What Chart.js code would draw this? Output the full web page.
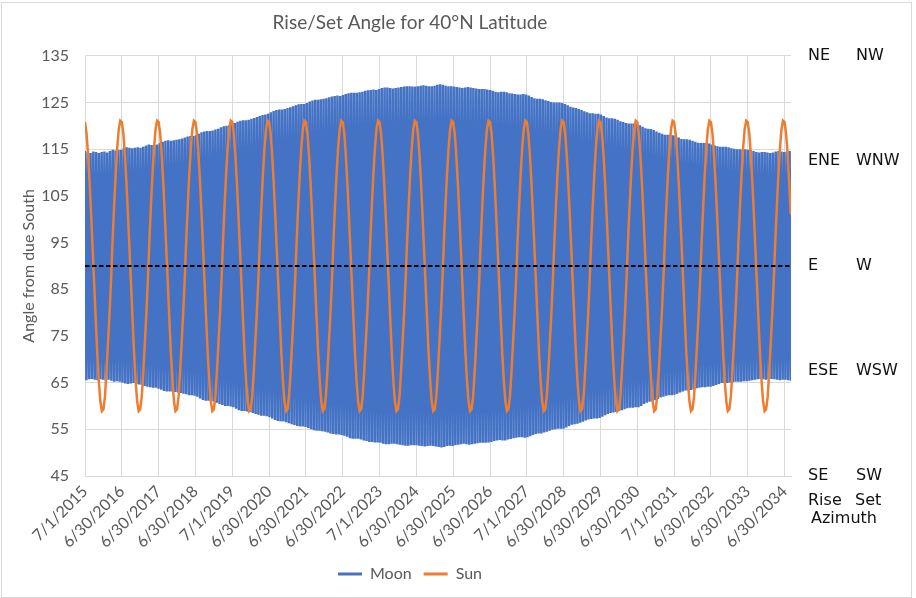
<!DOCTYPE html>
<html>
<head>
<meta charset="utf-8">
<script src="https://cdn.jsdelivr.net/npm/chart.js@4.4.1/dist/chart.umd.min.js"></script>
<style>
  html, body { margin: 0; padding: 0; background: #fff; }
  #wrap { position: relative; width: 916px; height: 598px; }
  #frame { position: absolute; left: 1px; top: 2px; width: 909px; height: 594px; border: 1px solid #d9d9d9; pointer-events: none; }
</style>
</head>
<body>
<div id="wrap">
  <canvas id="myChart" width="916" height="598"></canvas>
  <div id="frame"></div>
</div>
<script>
// x tick labels, one per year (Excel category labels)
const tickLabels = [
  "7/1/2015", "6/30/2016", "6/30/2017", "6/30/2018", "7/1/2019",
  "6/30/2020", "6/30/2021", "6/30/2022", "7/1/2023", "6/30/2024",
  "6/30/2025", "6/30/2026", "7/1/2027", "6/30/2028", "6/30/2029",
  "6/30/2030", "7/1/2031", "6/30/2032", "6/30/2033", "6/30/2034"
];

// months covered from 7/1/2015 to the end of the data (early Sep 2034)
const spanMonths = 230.1;

// Moon: highest rise angle of each monthly swing
const moonHighs = [
  114.6, 114.3, 114.2, 114.5, 114.4, 114.2, 114.4, 114.5, 114.3, 114.6, 114.9, 114.7, 114.8,
  114.9, 115.3, 115.4, 115.3, 115.2, 115.3, 115.4, 115.3, 115.5, 115.8, 116.0, 115.9, 115.9,
  116.0, 116.3, 116.6, 116.8, 116.9, 116.8, 116.9, 117.0, 117.1, 117.3, 117.5, 117.7, 117.8, 117.8,
  118.0, 118.3, 118.6, 118.8, 118.9, 118.9, 119.0, 119.2, 119.4, 119.7, 119.9, 120.0, 120.1,
  120.3, 120.6, 120.9, 121.1, 121.2, 121.2, 121.3, 121.5, 121.7, 121.9, 122.1, 122.3, 122.4,
  122.6, 122.9, 123.2, 123.4, 123.5, 123.5, 123.6, 123.8, 124.0, 124.2, 124.4, 124.6, 124.7, 124.7,
  124.9, 125.2, 125.4, 125.6, 125.6, 125.7, 125.8, 125.9, 126.1, 126.3, 126.4, 126.5, 126.4,
  126.6, 126.8, 127.0, 127.1, 127.1, 127.1, 127.2, 127.3, 127.5, 127.6, 127.7, 127.8, 127.7,
  127.9, 128.1, 128.2, 128.2, 128.1, 128.0, 128.1, 128.2, 128.3, 128.4, 128.5, 128.5, 128.4, 128.4,
  128.5, 128.6, 128.7, 128.6, 128.5, 128.5, 128.6, 128.8, 128.9, 128.8, 128.6, 128.5, 128.5,
  128.4, 128.3, 128.2, 128.1, 128.2, 128.3, 128.2, 128.1, 128.0, 127.9, 127.9, 127.9, 127.8,
  127.7, 127.5, 127.3, 127.2, 127.3, 127.3, 127.2, 127.0, 126.9, 126.8, 126.7, 126.7, 126.8, 126.7,
  126.5, 126.2, 125.9, 125.8, 125.8, 125.7, 125.5, 125.3, 125.1, 125.0, 125.0, 125.0, 124.9,
  124.7, 124.4, 124.1, 123.9, 123.8, 123.6, 123.4, 123.1, 122.9, 122.7, 122.7, 122.6, 122.6,
  122.4, 122.1, 121.8, 121.6, 121.6, 121.5, 121.3, 121.0, 120.8, 120.6, 120.5, 120.5, 120.5, 120.4,
  120.1, 119.8, 119.5, 119.4, 119.3, 119.1, 118.8, 118.5, 118.3, 118.1, 118.1, 118.1, 118.0,
  117.8, 117.5, 117.2, 117.1, 117.1, 117.0, 116.8, 116.6, 116.4, 116.3, 116.3, 116.3, 116.2,
  116.0, 115.8, 115.6, 115.5, 115.5, 115.5, 115.4, 115.2, 115.1, 115.0, 115.0, 115.0, 115.0, 114.9,
  114.8, 114.6, 114.4, 114.3, 114.4, 114.4, 114.3, 114.2, 114.3, 114.5, 114.6, 114.5, 114.4,
  114.5, 114.6
];

// Moon: lowest rise angle of each monthly swing
const moonLows = [
  65.5, 65.7, 65.8, 65.6, 65.5, 65.7, 65.6, 65.4, 65.6, 65.4, 65.2, 65.3, 65.2,
  65.0, 64.8, 64.7, 64.8, 64.9, 64.7, 64.6, 64.5, 64.3, 64.1, 64.0, 63.9, 63.9,
  63.7, 63.5, 63.2, 63.1, 63.1, 63.1, 63.0, 62.9, 62.8, 62.6, 62.5, 62.3, 62.3, 62.2,
  62.0, 61.6, 61.3, 61.1, 61.1, 61.0, 60.9, 60.7, 60.4, 60.2, 60.0, 60.0, 59.9,
  59.7, 59.4, 59.1, 58.9, 58.9, 58.8, 58.7, 58.5, 58.3, 58.1, 57.9, 57.9, 57.8,
  57.6, 57.3, 57.0, 56.8, 56.7, 56.7, 56.5, 56.3, 56.1, 55.9, 55.7, 55.6, 55.6, 55.5,
  55.3, 55.0, 54.8, 54.7, 54.7, 54.6, 54.5, 54.3, 54.1, 54.0, 53.9, 53.9, 53.8,
  53.6, 53.4, 53.1, 53.0, 53.0, 53.0, 52.8, 52.6, 52.5, 52.3, 52.3, 52.2, 52.2,
  52.1, 51.9, 51.8, 51.8, 51.9, 51.9, 51.8, 51.7, 51.6, 51.5, 51.5, 51.6, 51.6, 51.6,
  51.5, 51.4, 51.3, 51.4, 51.5, 51.4, 51.3, 51.2, 51.1, 51.2, 51.4, 51.5, 51.4,
  51.6, 51.7, 51.8, 51.9, 51.8, 51.7, 51.8, 51.9, 52.0, 52.1, 52.1, 52.1, 52.2,
  52.3, 52.5, 52.6, 52.7, 52.6, 52.6, 52.8, 52.9, 53.1, 53.2, 53.3, 53.3, 53.2, 53.3,
  53.5, 53.8, 54.0, 54.1, 54.1, 54.3, 54.5, 54.7, 54.9, 55.0, 55.1, 55.1, 55.1,
  55.4, 55.7, 56.0, 56.1, 56.2, 56.4, 56.6, 56.9, 57.1, 57.2, 57.3, 57.3, 57.4,
  57.7, 58.0, 58.3, 58.5, 58.6, 58.7, 58.9, 59.1, 59.3, 59.5, 59.6, 59.6, 59.7, 59.7,
  60.0, 60.4, 60.7, 60.9, 61.0, 61.2, 61.5, 61.8, 62.0, 62.2, 62.3, 62.3, 62.4,
  62.6, 62.9, 63.1, 63.3, 63.3, 63.4, 63.6, 63.8, 63.9, 64.0, 64.0, 64.1, 64.1,
  64.3, 64.5, 64.7, 64.9, 64.9, 64.9, 65.0, 65.1, 65.2, 65.2, 65.2, 65.3, 65.3, 65.4,
  65.5, 65.6, 65.7, 65.8, 65.7, 65.6, 65.7, 65.8, 65.7, 65.6, 65.5, 65.6, 65.6,
  65.5, 65.4
];

// Sun rise angle on the 1st and 16th of each month, 7/1/2015 .. 9/1/2034
const sunAngles = [
  120.8, 118.4, 113.8, 107.9, 101.0, 93.5, 86.1, 78.5, 71.2, 65.4, 61.0, 58.9,
  59.3, 62.0, 67.3, 73.5, 79.8, 87.1, 95.6, 103.0, 109.7, 115.3, 119.3, 121.1, 120.8, 118.4, 113.8, 107.9, 101.0, 93.5, 86.1, 78.5, 71.2, 65.4, 61.0, 58.9,
  59.3, 62.0, 67.3, 73.5, 79.8, 87.1, 95.6, 103.0, 109.7, 115.3, 119.3, 121.1, 120.8, 118.4, 113.8, 107.9, 101.0, 93.5, 86.1, 78.5, 71.2, 65.4, 61.0, 58.9,
  59.3, 62.0, 67.3, 73.5, 79.8, 87.1, 95.6, 103.0, 109.7, 115.3, 119.3, 121.1, 120.8, 118.4, 113.8, 107.9, 101.0, 93.5, 86.1, 78.5, 71.2, 65.4, 61.0, 58.9,
  59.3, 62.0, 67.3, 73.5, 79.8, 87.1, 95.6, 103.0, 109.7, 115.3, 119.3, 121.1, 120.8, 118.4, 113.8, 107.9, 101.0, 93.5, 86.1, 78.5, 71.2, 65.4, 61.0, 58.9,
  59.3, 62.0, 67.3, 73.5, 79.8, 87.1, 95.6, 103.0, 109.7, 115.3, 119.3, 121.1, 120.8, 118.4, 113.8, 107.9, 101.0, 93.5, 86.1, 78.5, 71.2, 65.4, 61.0, 58.9,
  59.3, 62.0, 67.3, 73.5, 79.8, 87.1, 95.6, 103.0, 109.7, 115.3, 119.3, 121.1, 120.8, 118.4, 113.8, 107.9, 101.0, 93.5, 86.1, 78.5, 71.2, 65.4, 61.0, 58.9,
  59.3, 62.0, 67.3, 73.5, 79.8, 87.1, 95.6, 103.0, 109.7, 115.3, 119.3, 121.1, 120.8, 118.4, 113.8, 107.9, 101.0, 93.5, 86.1, 78.5, 71.2, 65.4, 61.0, 58.9,
  59.3, 62.0, 67.3, 73.5, 79.8, 87.1, 95.6, 103.0, 109.7, 115.3, 119.3, 121.1, 120.8, 118.4, 113.8, 107.9, 101.0, 93.5, 86.1, 78.5, 71.2, 65.4, 61.0, 58.9,
  59.3, 62.0, 67.3, 73.5, 79.8, 87.1, 95.6, 103.0, 109.7, 115.3, 119.3, 121.1, 120.8, 118.4, 113.8, 107.9, 101.0, 93.5, 86.1, 78.5, 71.2, 65.4, 61.0, 58.9,
  59.3, 62.0, 67.3, 73.5, 79.8, 87.1, 95.6, 103.0, 109.7, 115.3, 119.3, 121.1, 120.8, 118.4, 113.8, 107.9, 101.0, 93.5, 86.1, 78.5, 71.2, 65.4, 61.0, 58.9,
  59.3, 62.0, 67.3, 73.5, 79.8, 87.1, 95.6, 103.0, 109.7, 115.3, 119.3, 121.1, 120.8, 118.4, 113.8, 107.9, 101.0, 93.5, 86.1, 78.5, 71.2, 65.4, 61.0, 58.9,
  59.3, 62.0, 67.3, 73.5, 79.8, 87.1, 95.6, 103.0, 109.7, 115.3, 119.3, 121.1, 120.8, 118.4, 113.8, 107.9, 101.0, 93.5, 86.1, 78.5, 71.2, 65.4, 61.0, 58.9,
  59.3, 62.0, 67.3, 73.5, 79.8, 87.1, 95.6, 103.0, 109.7, 115.3, 119.3, 121.1, 120.8, 118.4, 113.8, 107.9, 101.0, 93.5, 86.1, 78.5, 71.2, 65.4, 61.0, 58.9,
  59.3, 62.0, 67.3, 73.5, 79.8, 87.1, 95.6, 103.0, 109.7, 115.3, 119.3, 121.1, 120.8, 118.4, 113.8, 107.9, 101.0, 93.5, 86.1, 78.5, 71.2, 65.4, 61.0, 58.9,
  59.3, 62.0, 67.3, 73.5, 79.8, 87.1, 95.6, 103.0, 109.7, 115.3, 119.3, 121.1, 120.8, 118.4, 113.8, 107.9, 101.0, 93.5, 86.1, 78.5, 71.2, 65.4, 61.0, 58.9,
  59.3, 62.0, 67.3, 73.5, 79.8, 87.1, 95.6, 103.0, 109.7, 115.3, 119.3, 121.1, 120.8, 118.4, 113.8, 107.9, 101.0, 93.5, 86.1, 78.5, 71.2, 65.4, 61.0, 58.9,
  59.3, 62.0, 67.3, 73.5, 79.8, 87.1, 95.6, 103.0, 109.7, 115.3, 119.3, 121.1, 120.8, 118.4, 113.8, 107.9, 101.0, 93.5, 86.1, 78.5, 71.2, 65.4, 61.0, 58.9,
  59.3, 62.0, 67.3, 73.5, 79.8, 87.1, 95.6, 103.0, 109.7, 115.3, 119.3, 121.1, 120.8, 118.4, 113.8, 107.9, 101.0, 93.5, 86.1, 78.5, 71.2, 65.4, 61.0, 58.9,
  59.3, 62.0, 67.3, 73.5, 79.8, 87.1, 95.6, 103.0, 109.7, 115.3, 119.3, 121.1, 120.8, 118.4, 113.8, 107.9, 101.0
];

// due east / west reference line
const dueEast = 90;

// compass points on the right side
const compassAngles = [45, 67.5, 90, 112.5, 135];
const riseLabels = ["SE", "ESE", "E", "ENE", "NE"];
const setLabels = ["SW", "WSW", "W", "WNW", "NW"];

const gray = "#595959";
const gridColor = "#d9d9d9";

Chart.defaults.font.family = "Lato, 'Liberation Sans', sans-serif";
Chart.defaults.color = gray;

// moon swings: high, low, high, low ... spread evenly over the time span
const moonPoints = [];
const swings = Math.min(moonHighs.length, moonLows.length);
const step = spanMonths / (2 * swings - 1);
for (let i = 0; i < swings; i++) {
  moonPoints.push({ x: 2 * i * step, y: moonHighs[i] });
  moonPoints.push({ x: (2 * i + 1) * step, y: moonLows[i] });
}

const sunPoints = sunAngles.map((v, i) => ({ x: i / 2, y: v }));

const compassPlugin = {
  id: "compass",
  afterDraw(chart) {
    const ctx = chart.ctx;
    const y = chart.scales.y;
    const right = chart.chartArea.right;
    ctx.save();
    ctx.font = "16px 'DejaVu Sans'";
    ctx.fillStyle = "#111";
    ctx.textAlign = "left";
    ctx.textBaseline = "middle";
    compassAngles.forEach((a, i) => {
      const py = y.getPixelForValue(a);
      ctx.fillText(riseLabels[i], right + 17, py);
      ctx.fillText(setLabels[i], right + 65, py);
    });
    const base = y.getPixelForValue(45);
    ctx.fillText("Rise", right + 17, base + 25);
    ctx.fillText("Set", right + 64, base + 25);
    ctx.fillText("Azimuth", right + 20, base + 43);
    ctx.restore();
  }
};

const config = {
  type: "line",
  data: {
    datasets: [
      {
        label: "Moon",
        data: moonPoints,
        borderColor: "#4472C4",
        backgroundColor: "#4472C4",
        borderWidth: 2.5,
        pointRadius: 0,
        order: 3,
      },
      {
        label: "Sun",
        data: sunPoints,
        borderColor: "#ED7D31",
        backgroundColor: "#ED7D31",
        borderWidth: 2.5,
        pointRadius: 0,
        order: 2,
      },
      {
        label: "East",
        data: [{ x: 0, y: dueEast }, { x: spanMonths, y: dueEast }],
        borderColor: "#000",
        borderWidth: 2,
        borderDash: [4.5, 2.5],
        pointRadius: 0,
        order: 1,
      },
    ],
  },
  options: {
    responsive: false,
    animation: false,
    layout: { padding: { left: 29, right: 125, top: 0, bottom: 6 } },
    plugins: {
      title: {
        display: true,
        text: "Rise/Set Angle for 40°N Latitude",
        color: gray,
        font: { size: 19, weight: "normal" },
        padding: { top: 11, bottom: 22 },
      },
      legend: {
        position: "bottom",
        labels: {
          boxWidth: 24,
          boxHeight: 3,
          padding: 12,
          color: gray,
          font: { size: 16 },
          generateLabels(chart) {
            const items = Chart.defaults.plugins.legend.labels.generateLabels(chart);
            return items
              .filter((it) => it.datasetIndex < 2)
              .sort((a, b) => a.datasetIndex - b.datasetIndex)
              .map((it) => Object.assign(it, {
                lineWidth: 0,
                fillStyle: chart.data.datasets[it.datasetIndex].borderColor,
              }));
          },
        },
      },
      tooltip: { enabled: false },
    },
    scales: {
      x: {
        type: "linear",
        min: 0,
        max: spanMonths,
        afterBuildTicks: (scale) => {
          scale.ticks = tickLabels.map((l, i) => ({ value: i * 12 }));
        },
        afterFit: (scale) => {
          scale.height = 78;
        },
        ticks: {
          autoSkip: false,
          minRotation: 45,
          maxRotation: 45,
          padding: 6,
          color: gray,
          font: { size: 16 },
          callback: (value, index) => tickLabels[index],
        },
        grid: { color: gridColor, drawTicks: false },
        border: { color: gridColor },
      },
      y: {
        min: 45,
        max: 135,
        afterFit: (scale) => {
          scale.width = 56;
        },
        ticks: { stepSize: 10, padding: 16, color: gray, font: { size: 16 } },
        grid: { color: gridColor, drawTicks: false },
        border: { color: gridColor },
        title: {
          display: true,
          text: "Angle from due South",
          color: gray,
          font: { size: 16 },
          padding: { top: -10, bottom: 0 },
        },
      },
    },
  },
  plugins: [compassPlugin],
};

var myChart = new Chart(document.getElementById("myChart"), config);
</script>
</body>
</html>
